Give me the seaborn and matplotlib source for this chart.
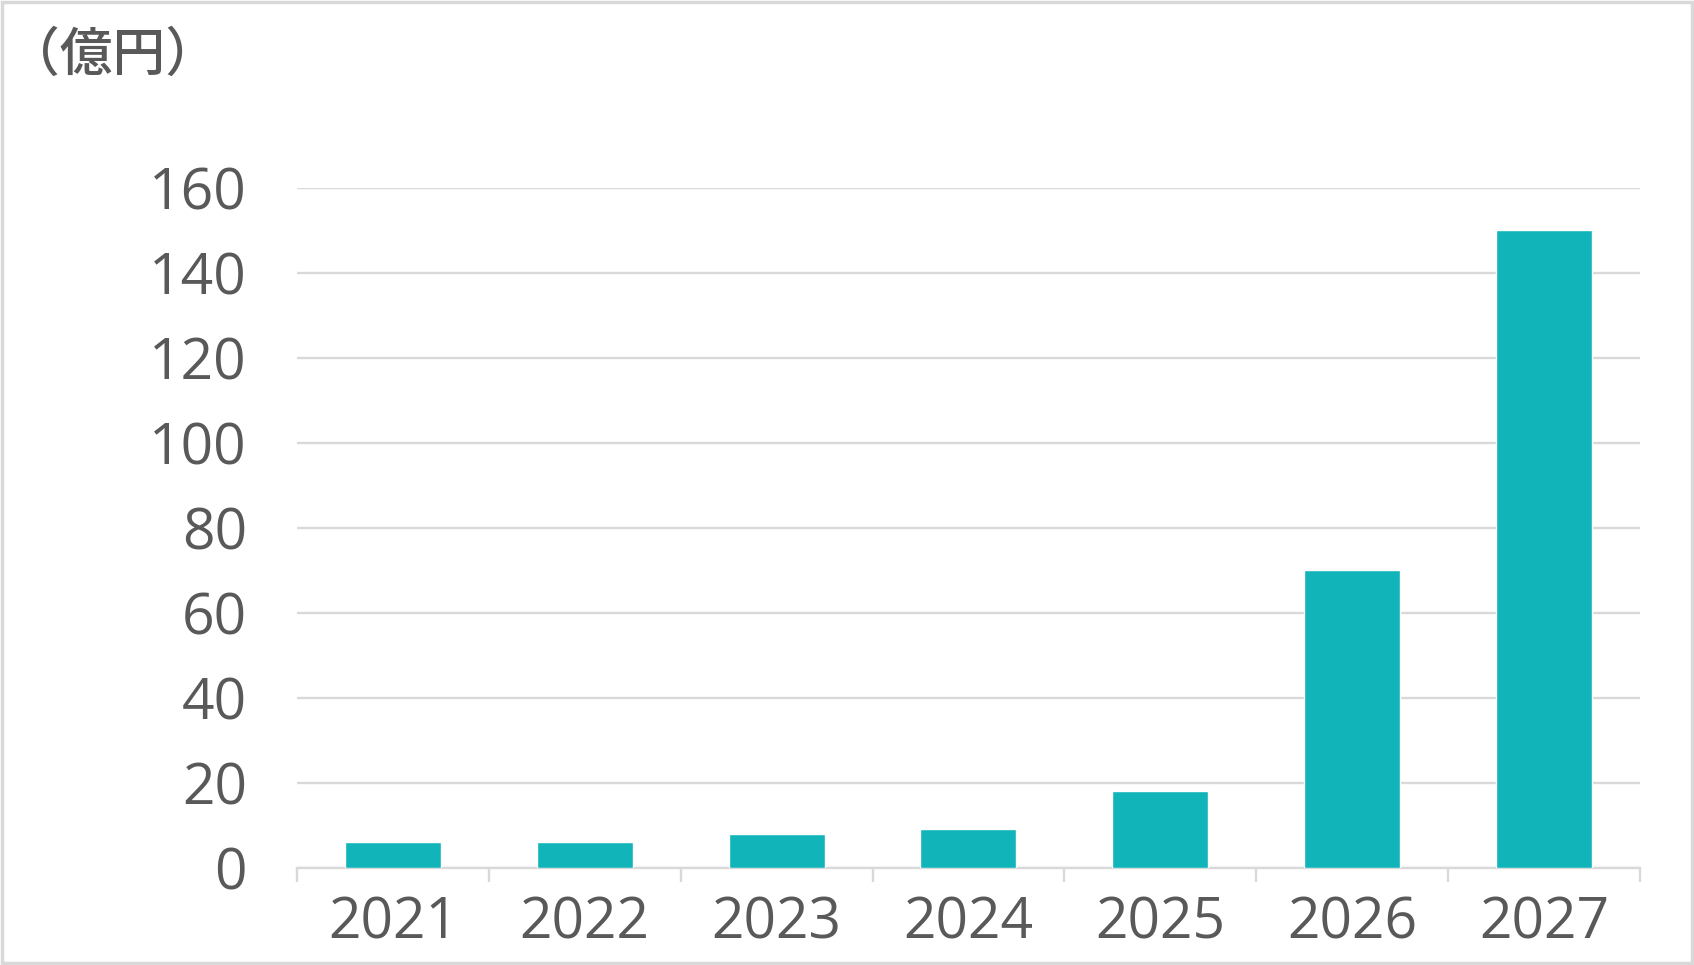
import matplotlib
matplotlib.use('Agg')
import matplotlib.pyplot as plt
import seaborn as sns
import pandas as pd
from matplotlib.patches import Rectangle

# data
years = ['2021', '2022', '2023', '2024', '2025', '2026', '2027']
values = [6, 6, 8, 9, 18, 70, 150]
yticks = [0, 20, 40, 60, 80, 100, 120, 140, 160]

bar_color = '#11B5B9'
text_color = '#595959'
grid_color = '#d9d9d9'

def main():
  sns.set_style('white')
  plt.rcParams['font.family'] = ['Open Sans', 'Noto Sans CJK JP', 'DejaVu Sans']
  plt.rcParams['font.weight'] = 'medium'

  df = pd.DataFrame({'year': years, 'value': values})

  fig = plt.figure(figsize=(16.94, 9.65), dpi=100)
  ax = fig.add_axes([0.1753, 0.1009, 0.9681 - 0.1753, 0.8052 - 0.1009])

  sns.barplot(ax=ax, data=df, x='year', y='value', color=bar_color, width=0.5,
              saturation=1, zorder=3)

  ax.set_ylim(0, 160)
  ax.set_xlim(-0.5, len(years) - 0.5)
  ax.set_yticks(yticks)
  ax.yaxis.grid(True, color=grid_color, linewidth=1.7, zorder=0)
  ax.set_axisbelow(True)
  ax.set_xlabel('')
  ax.set_ylabel('')

  for side in ['top', 'right', 'left']:
    ax.spines[side].set_visible(False)
  ax.spines['bottom'].set_color(grid_color)
  ax.spines['bottom'].set_linewidth(1.7)

  # tick marks between categories
  ax.set_xticks([i - 0.5 for i in range(len(years) + 1)], minor=True)
  ax.tick_params(axis='x', which='minor', length=10, width=1.7, color=grid_color, direction='out', bottom=True)
  ax.tick_params(axis='x', which='major', length=0, pad=20, labelsize=41, labelcolor=text_color)
  ax.tick_params(axis='y', length=0, pad=36, labelsize=41, labelcolor=text_color)

  fig.text(0.004, 1 - 56 / 965, '（億円）', fontsize=38, color=text_color, va='center', ha='left',
           family=['Noto Sans CJK JP', 'DejaVu Sans'], fontweight='medium')

  # light frame around the whole picture
  fig.patches.append(Rectangle((0.001, 0.002), 0.998, 0.996, transform=fig.transFigure,
                               fill=False, edgecolor=grid_color, linewidth=2.5))

  fig.savefig('out.png', dpi=100, facecolor='white')

if __name__ == '__main__':
  main()
